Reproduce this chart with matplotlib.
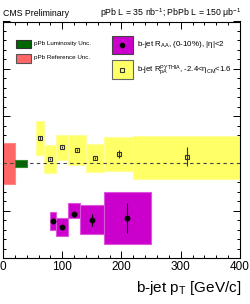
import matplotlib
matplotlib.use('Agg')
import matplotlib.pyplot as plt
from matplotlib.patches import Rectangle
from matplotlib.ticker import MultipleLocator

plt.rcParams['font.family'] = ['Liberation Sans', 'DejaVu Sans']
plt.rcParams['mathtext.fontset'] = 'custom'
plt.rcParams['mathtext.rm'] = 'Liberation Sans'
plt.rcParams['mathtext.it'] = 'Liberation Sans:italic'

# pPb R_pA^PYTHIA (yellow)
ppb_lo = [55, 70, 90, 110, 140, 170, 220]
ppb_hi = [70, 90, 110, 140, 170, 220, 400]
ppb_x = [63, 80, 100, 125, 155, 195, 310]
ppb_y = [1.27, 1.05, 1.17, 1.14, 1.06, 1.10, 1.07]
ppb_stat = [0.02, 0.01, 0.01, 0.01, 0.01, 0.04, 0.10]
ppb_sys_lo = [1.09, 0.90, 1.04, 0.98, 0.91, 0.92, 0.84]
ppb_sys_hi = [1.45, 1.19, 1.30, 1.30, 1.21, 1.28, 1.29]

# PbPb R_AA (magenta)
pbpb_lo = [80, 90, 110, 130, 170]
pbpb_hi = [90, 110, 130, 170, 250]
pbpb_x = [85, 100, 120, 150, 210]
pbpb_y = [0.39, 0.33, 0.46, 0.40, 0.42]
pbpb_stat = [0.01, 0.02, 0.03, 0.065, 0.16]
pbpb_sys_lo = [0.30, 0.235, 0.42, 0.25, 0.145]
pbpb_sys_hi = [0.485, 0.42, 0.585, 0.555, 0.70]

# normalisation uncertainties
lumi_box = (20, 40, 0.965, 1.035)
ref_box = (0, 20, 0.78, 1.22)

yellow = '#ffff66'
magenta = '#cc00cc'
red = '#ff6666'
green = '#006600'

fig = plt.figure(figsize=(2.51, 3.04), dpi=100)
W, H = 251.0, 304.0
ax = fig.add_axes([3 / W, 1 - 258 / H, 237 / W, 236.5 / H])

for lo, hi, a, b in zip(ppb_lo, ppb_hi, ppb_sys_lo, ppb_sys_hi):
    ax.add_patch(Rectangle((lo, a), hi - lo, b - a, facecolor=yellow,
                           edgecolor='#ffff99', lw=0.8, zorder=2))
for lo, hi, a, b in zip(pbpb_lo, pbpb_hi, pbpb_sys_lo, pbpb_sys_hi):
    ax.add_patch(Rectangle((lo, a), hi - lo, b - a, facecolor=magenta,
                           edgecolor='#dd55dd', lw=0.8, zorder=2))

x0, x1, a, b = ref_box
ax.add_patch(Rectangle((x0, a), x1 - x0, b - a, facecolor=red,
                       edgecolor='#ff8888', lw=0.8, zorder=2))
x0, x1, a, b = lumi_box
ax.add_patch(Rectangle((x0, a), x1 - x0, b - a, facecolor=green,
                       edgecolor='#338833', lw=0.8, zorder=3))

ax.axhline(1.0, color='#444444', ls=(0, (3, 3)), lw=0.8, zorder=4)

ax.errorbar(ppb_x, ppb_y, yerr=ppb_stat, fmt='s', ms=3.5, mfc='none',
            mec='#333333', mew=0.8, ecolor='#333333', elinewidth=0.8,
            capsize=0, zorder=5)
ax.errorbar(pbpb_x, pbpb_y, yerr=pbpb_stat, fmt='o', ms=3.2, mfc='black',
            mec='black', ecolor='black', elinewidth=0.8, capsize=0, zorder=5)

ax.set_xlim(0, 400)
ax.set_ylim(0, 2.5)
ax.xaxis.set_major_locator(MultipleLocator(100))
ax.xaxis.set_minor_locator(MultipleLocator(20))
ax.yaxis.set_major_locator(MultipleLocator(0.5))
ax.yaxis.set_minor_locator(MultipleLocator(0.1))
ax.tick_params(which='both', direction='in', top=True, right=True,
               width=0.7, labelleft=False, labelsize=8.5, pad=2)
ax.tick_params(which='major', length=5)
ax.tick_params(which='minor', length=2.5)
for s in ax.spines.values():
    s.set_linewidth(0.8)

fig.text(3 / W, 1 - 13 / H, 'CMS Preliminary', fontsize=6.3, va='center')
fig.text(241 / W, 1 - 13 / H,
         'pPb L = 35 nb$^{-1}$; PbPb L = 150 μb$^{-1}$',
         fontsize=6.3, va='center', ha='right')
fig.text(241 / W, 1 - 288 / H, 'b-jet p$_{\\mathrm{T}}$ [GeV/c]',
         fontsize=11, va='center', ha='right')

# legend
def fbox(x0, y0, x1, y1, fc, ec):
    fig.patches.append(Rectangle((x0 / W, 1 - y1 / H), (x1 - x0) / W,
                                 (y1 - y0) / H, transform=fig.transFigure,
                                 facecolor=fc, edgecolor=ec, lw=0.8,
                                 figure=fig, zorder=10))

fbox(16, 39.5, 31, 47.5, green, '#333333')
fbox(16, 53.5, 31, 62.5, red, '#555555')
fig.text(34 / W, 1 - 43.5 / H, 'pPb Luminosity Unc.', fontsize=4.5, va='center')
fig.text(34 / W, 1 - 58 / H, 'pPb Reference Unc.', fontsize=4.5, va='center')

fbox(112, 36, 133, 54, magenta, '#444444')
fbox(112, 60, 133, 79, yellow, '#666666')
fig.lines.append(plt.Line2D([122.5 / W], [1 - 45 / H], marker='o', ms=3,
                            color='black', transform=fig.transFigure,
                            figure=fig, zorder=11))
fig.lines.append(plt.Line2D([122.5 / W], [1 - 69.5 / H], marker='s', ms=3.2,
                            mfc='none', mec='#333333', mew=0.8,
                            transform=fig.transFigure, figure=fig, zorder=11))
fig.text(137 / W, 1 - 45 / H,
         'b-jet R$_{\\mathrm{AA}}$, (0-10%), |η|<2', fontsize=5.8, va='center')
fig.text(137 / W, 1 - 70 / H,
         'b-jet R$_{\\mathrm{pA}}^{\\mathrm{PYTHIA}}$, -2.4<η$_{\\mathrm{CM}}$<1.6',
         fontsize=5.6, va='center')

fig.savefig('out.png', dpi=100)
